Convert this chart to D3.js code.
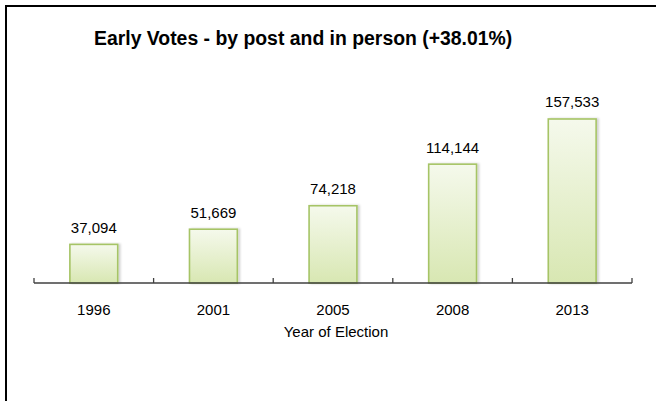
<!DOCTYPE html>
<html><head><meta charset="utf-8">
<script src="https://cdn.jsdelivr.net/npm/d3@7"></script>
<style>body{margin:0;background:#fff}svg{display:block}</style>
</head><body>
<script>
const categories = ["1996","2001","2005","2008","2013"];
const values = [37094, 51669, 74218, 114144, 157533];
const title = "Early Votes - by post and in person (+38.01%)";
const xTitle = "Year of Election";

const W = 656, H = 401;
const svg = d3.select("body").append("svg").attr("width", W).attr("height", H);
const defs = svg.append("defs");
const grad = defs.append("linearGradient").attr("id","g").attr("x1",0).attr("y1",0).attr("x2",0).attr("y2",1);
grad.append("stop").attr("offset","0%").attr("stop-color","#f5f9ec");
grad.append("stop").attr("offset","100%").attr("stop-color","#d8e7b2");
const f = defs.append("filter").attr("id","sh").attr("x","-20%").attr("y","-5%").attr("width","150%").attr("height","110%");
f.append("feDropShadow").attr("dx",2).attr("dy",0).attr("stdDeviation",1.2).attr("flood-color","#000").attr("flood-opacity",0.18);

// frame
svg.append("rect").attr("x",6).attr("y",6).attr("width",W+10).attr("height",H+10)
  .attr("fill","none").attr("stroke","#000").attr("stroke-width",2);

const x = d3.scaleBand().domain(categories).range([34,632]);
const y = d3.scaleLinear().domain([0,180000]).range([283,95.6]);
const bw = x.bandwidth()*0.4;

svg.append("text").attr("x",94).attr("y",44.7).attr("font-family","Liberation Sans, Arial, sans-serif")
  .attr("font-weight","bold").attr("font-size",19.4).attr("fill","#000").text(title);

const g = svg.append("g");
g.selectAll("rect.bar").data(values).join("rect").attr("class","bar")
  .attr("x",(d,i)=>x(categories[i])+x.bandwidth()/2-bw/2)
  .attr("y",d=>y(d)).attr("width",bw).attr("height",d=>y(0)-y(d))
  .attr("fill","url(#g)").attr("stroke","#a6c466").attr("stroke-width",1.6)
  .attr("filter","url(#sh)");

g.selectAll("text.val").data(values).join("text").attr("class","val")
  .attr("x",(d,i)=>x(categories[i])+x.bandwidth()/2)
  .attr("y",d=>y(d)-11.5).attr("text-anchor","middle")
  .attr("font-family","Liberation Sans, Arial, sans-serif").attr("font-size",15).attr("fill","#000")
  .text(d=>d3.format(",")(d));

// axis
const ax = svg.append("g").attr("transform","translate(0,283)")
  .call(d3.axisBottom(x).tickSize(0).tickPadding(21.5));
ax.select(".domain").remove();
ax.append("line").attr("x1",34).attr("x2",632).attr("stroke","#404040").attr("stroke-width",1.3);
const tickPos = categories.map(c=>x(c)).concat([632]);
ax.selectAll("line.tk").data(tickPos).join("line").attr("class","tk")
  .attr("x1",d=>d).attr("x2",d=>d).attr("y1",-5).attr("y2",0)
  .attr("stroke","#404040").attr("stroke-width",1.3);
ax.selectAll(".tick text").attr("font-family","Liberation Sans, Arial, sans-serif")
  .attr("font-size",15).attr("fill","#000");

svg.append("text").attr("x",336).attr("y",337.3).attr("text-anchor","middle")
  .attr("font-family","Liberation Sans, Arial, sans-serif").attr("font-size",15).attr("fill","#000")
  .text(xTitle);
</script>
</body></html>
